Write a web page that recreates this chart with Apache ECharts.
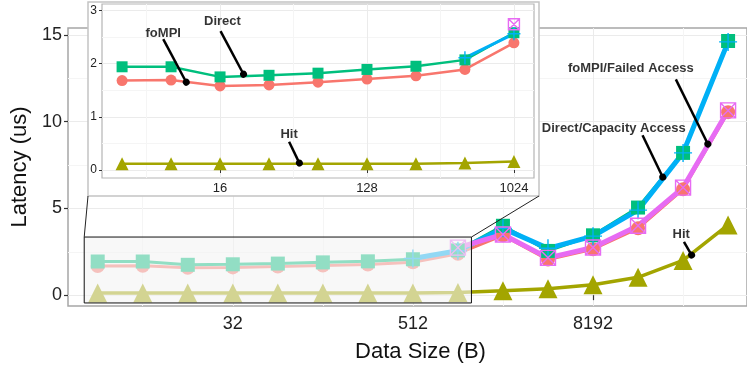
<!DOCTYPE html>
<html>
<head>
<meta charset="utf-8">
<script src="https://cdn.jsdelivr.net/npm/echarts@6/dist/echarts.min.js"></script>
<style>
html, body { margin: 0; padding: 0; background: #fff; }
#main { width: 747px; height: 368px; }
</style>
</head>
<body>
<div id="main"></div>
<script>
// message sizes (bytes), plotted on a log2 axis
const sizes = [4, 8, 16, 32, 64, 128, 256, 512, 1024, 2048, 4096, 8192, 16384, 32768, 65536];
// latency in us
const fompi    = [1.68, 1.69, 1.58, 1.60, 1.65, 1.71, 1.77, 1.89, 2.39, 3.45, 2.05, 2.65, 3.85, 6.10, 10.55];
const direct   = [1.94, 1.94, 1.75, 1.78, 1.82, 1.89, 1.95, 2.07, 2.58, 4.00, 2.55, 3.45, 5.05, 8.20, 14.65];
const hit      = [0.12, 0.12, 0.12, 0.12, 0.12, 0.12, 0.12, 0.13, 0.16, 0.25, 0.37, 0.60, 1.03, 2.00, 4.05];
const failed   = [null, null, null, null, null, null, null, 2.11, 2.56, 3.85, 2.70, 3.40, 4.90, 8.20, 14.60];
const capacity = [null, null, null, null, null, null, null, null, 2.74, 3.50, 2.15, 2.75, 4.00, 6.20, 10.65];

const mainXTicks = [32, 512, 8192];
const mainYTicks = [0, 5, 10, 15];
const insetXTicks = [16, 128, 1024];
const insetYTicks = [0, 1, 2, 3];
const insetCount = 9; // 4 .. 1024 B shown in the zoomed panel

// annotation labels (x in log2 bytes, y in us)
const mainNotes = [
  { text: 'foMPI/Failed Access',    at: [13.84, 13.07], from: [14.84, 12.44], to: [15.55, 8.71] },
  { text: 'Direct/Capacity Access', at: [13.46, 9.60],  from: [14.10, 9.22],  to: [14.55, 6.80] },
  { text: 'Hit',                    at: [14.96, 3.52],  from: [15.02, 3.07],  to: [15.19, 2.31] }
];
const insetNotes = [
  { text: 'foMPI',  at: [2.84, 2.57], from: [2.84, 2.46], to: [3.31, 1.65] },
  { text: 'Direct', at: [4.05, 2.80], from: [4.01, 2.61], to: [4.48, 1.80] },
  { text: 'Hit',    at: [5.41, 0.66], from: [5.41, 0.53], to: [5.62, 0.13] }
];

const FONT = 'Liberation Sans';
const PLUS = 'path://M5,0L5,10M0,5L10,5';
const XBOX = 'path://M0,0L10,0L10,10L0,10ZM0,0L10,10M10,0L0,10';

const lines = [
  { name: 'foMPI',  vals: fompi,    color: '#F8766D', symbol: 'circle',   size: [14, 11], lw: [3, 2.5] },
  { name: 'Hit',    vals: hit,      color: '#A3A500', symbol: 'triangle', size: [19, 13], lw: [3.5, 2.5] },
  { name: 'Direct', vals: direct,   color: '#00BF7D', symbol: 'rect',     size: [14, 11], lw: [3, 2.5] },
  { name: 'foMPI/Failed Access',    vals: failed,   color: '#00B0F6', symbol: PLUS, size: [18, 13], lw: [5, 3], stroke: true },
  { name: 'Direct/Capacity Access', vals: capacity, color: '#E76BF3', symbol: XBOX, size: [15, 11], lw: [5, 3], stroke: true }
];

const lg = Math.log2;
function points(vals, n) {
  return sizes.slice(0, n)
    .map((s, i) => vals[i] == null ? null : [lg(s), vals[i]])
    .filter(p => p);
}

function lineSeries(spec, k, xi, yi, n, z) {
  return {
    type: 'line', name: spec.name,
    xAxisIndex: xi, yAxisIndex: yi, z: z,
    data: points(spec.vals, n),
    symbol: spec.symbol, symbolSize: spec.size[k],
    showAllSymbol: true,
    lineStyle: { color: spec.color, width: spec.lw[k] },
    itemStyle: spec.stroke
      ? { color: 'rgba(0,0,0,0)', borderColor: spec.color, borderWidth: 1.4 }
      : { color: spec.color },
    emphasis: { disabled: true }
  };
}

function noteSeries(notes, xi, yi, z) {
  return {
    type: 'scatter', xAxisIndex: xi, yAxisIndex: yi, z: z,
    symbolSize: 0,
    data: notes.map(d => ({ name: d.text, value: d.at })),
    label: { show: true, position: 'inside', formatter: '{b}', color: '#000',
             fontFamily: FONT, fontWeight: 'bold', fontSize: 13 },
    markLine: {
      z: z, silent: true, animation: false,
      symbol: ['none', 'circle'], symbolSize: 7,
      lineStyle: { color: '#000', width: 2.5, type: 'solid' },
      label: { show: false },
      itemStyle: { color: '#000' },
      data: notes.map(d => [{ coord: d.from }, { coord: d.to }])
    }
  };
}

function minorAxis(grid, min, max, vals) {
  return {
    type: 'value', gridIndex: grid, min: min, max: max,
    axisLine: { show: false }, axisLabel: { show: false },
    axisTick: { show: false, customValues: vals },
    splitLine: { show: true, lineStyle: { color: '#F5F5F5', width: 1 } },
    z: grid === 1 ? 9 : 0
  };
}

const xm = [1.34, 16.42], ym = [-0.625, 15.4];
const xi = [1.59, 10.41], yi = [-0.15, 3.12];
const box = { x0: 1.70, x1: 10.30, y0: -0.45, y1: 3.35 };

const chart = echarts.init(document.getElementById('main'));

const option = {
  animation: false,
  backgroundColor: '#fff',
  textStyle: { fontFamily: FONT },
  grid: [
    { left: 68, top: 28, right: -2, bottom: 58, show: true, borderColor: '#A6A6A6', borderWidth: 1.5, backgroundColor: 'transparent' },
    { left: 102, top: 4, right: 213, bottom: 190, show: true, borderColor: '#B5B5B5', borderWidth: 1.2, z: 9 }
  ],
  xAxis: [
    {
      type: 'value', gridIndex: 0, min: xm[0], max: xm[1],
      axisLine: { show: false },
      axisTick: { show: true, length: 5, customValues: mainXTicks.map(lg), lineStyle: { color: '#333', width: 1.2 } },
      axisLabel: { customValues: mainXTicks.map(lg), formatter: v => String(Math.round(2 ** v)),
                   fontSize: 18, color: '#222', margin: 9 },
      splitLine: { show: true, lineStyle: { color: '#EBEBEB', width: 1 } },
      name: 'Data Size (B)', nameLocation: 'middle', nameGap: 35,
      nameTextStyle: { fontSize: 22, color: '#111', padding: [0, 0, 0, 26] }
    },
    minorAxis(0, xm[0], xm[1], [3, 7, 11, 15]),
    {
      type: 'value', gridIndex: 1, min: xi[0], max: xi[1], z: 9,
      axisLine: { show: false },
      axisTick: { show: true, length: 3, customValues: insetXTicks.map(lg), lineStyle: { color: '#333' } },
      axisLabel: { customValues: insetXTicks.map(lg), formatter: v => String(Math.round(2 ** v)),
                   fontSize: 13, color: '#222', margin: 4 },
      splitLine: { show: true, lineStyle: { color: '#EBEBEB', width: 1 } }
    },
    minorAxis(1, xi[0], xi[1], [2.5, 5.5, 8.5])
  ],
  yAxis: [
    {
      type: 'value', gridIndex: 0, min: ym[0], max: ym[1],
      axisLine: { show: false },
      axisTick: { show: true, length: 4, customValues: mainYTicks, lineStyle: { color: '#333', width: 1.2 } },
      axisLabel: { customValues: mainYTicks, fontSize: 18, color: '#222', margin: 6 },
      splitLine: { show: true, lineStyle: { color: '#EBEBEB', width: 1 } },
      name: 'Latency (us)', nameLocation: 'middle', nameGap: 33,
      nameTextStyle: { fontSize: 22, color: '#111' }
    },
    minorAxis(0, ym[0], ym[1], [2.5, 7.5, 12.5]),
    {
      type: 'value', gridIndex: 1, min: yi[0], max: yi[1], z: 9,
      axisLine: { show: false },
      axisTick: { show: true, length: 3, customValues: insetYTicks, lineStyle: { color: '#333' } },
      axisLabel: { customValues: insetYTicks, fontSize: 12, color: '#222', margin: 5 },
      splitLine: { show: true, lineStyle: { color: '#EBEBEB', width: 1 } }
    },
    minorAxis(1, yi[0], yi[1], [0.5, 1.5, 2.5])
  ],
  series: [
    ...lines.map(s => lineSeries(s, 0, 0, 0, sizes.length, 2)),
    {
      type: 'line', xAxisIndex: 0, yAxisIndex: 0, data: [], z: 4,
      markArea: {
        z: 4, silent: true,
        itemStyle: { color: 'rgba(244,244,244,0.6)', borderColor: '#111', borderWidth: 1 },
        data: [[{ coord: [box.x0, box.y1] }, { coord: [box.x1, box.y0] }]]
      }
    },
    noteSeries(mainNotes, 0, 0, 5),
    ...lines.map(s => lineSeries(s, 1, 2, 2, insetCount, 10)),
    noteSeries(insetNotes, 2, 2, 12)
  ]
};

chart.setOption(option);

// zoom box corners -> inset panel corners
const tl = chart.convertToPixel({ gridIndex: 0 }, [box.x0, box.y1]);
const tr = chart.convertToPixel({ gridIndex: 0 }, [box.x1, box.y1]);
const inset = { x: 88, y: 2, w: 451, h: 194 };
chart.setOption({
  graphic: [
    { type: 'rect', z: 8, silent: true,
      shape: { x: inset.x, y: inset.y, width: inset.w, height: inset.h },
      style: { fill: '#fff', stroke: '#C4C4C4', lineWidth: 1.5 } },
    { type: 'line', z: 8, silent: true,
      shape: { x1: tl[0], y1: tl[1], x2: inset.x, y2: inset.y + inset.h },
      style: { stroke: '#222', lineWidth: 1 } },
    { type: 'line', z: 8, silent: true,
      shape: { x1: tr[0], y1: tr[1], x2: inset.x + inset.w, y2: inset.y + inset.h },
      style: { stroke: '#222', lineWidth: 1 } }
  ]
});
</script>
</body>
</html>
